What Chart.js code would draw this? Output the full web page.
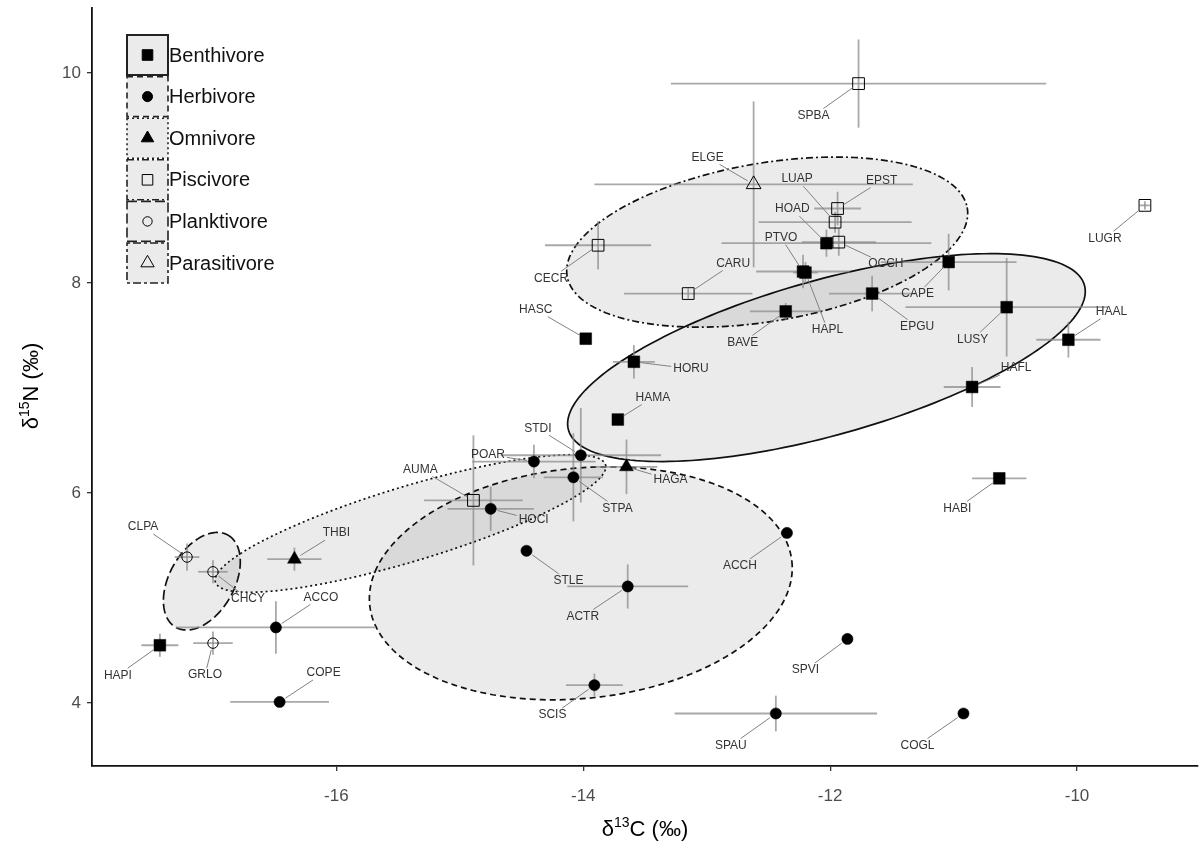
<!DOCTYPE html>
<html>
<head>
<meta charset="utf-8">
<script src="https://cdn.jsdelivr.net/npm/chart.js@4.4.0/dist/chart.umd.min.js"></script>
<style>
  html, body { margin: 0; padding: 0; background: #fff; }
</style>
</head>
<body>
<canvas id="isoChart" width="1200" height="854"></canvas>
<script>
// ---- data ----
var groups = ['Benthivore', 'Herbivore', 'Omnivore', 'Piscivore', 'Planktivore', 'Parasitivore'];

var species = ['SPBA', 'ELGE', 'EPST', 'LUAP', 'HOAD', 'OCCH', 'PTVO', 'HAPL', 'CAPE', 'EPGU',
               'LUSY', 'HAFL', 'HAAL', 'HABI', 'LUGR', 'BAVE', 'CECR', 'CARU', 'HASC', 'HORU',
               'HAMA', 'STDI', 'POAR', 'AUMA', 'HAGA', 'STPA', 'HOCI', 'STLE', 'ACTR', 'ACCH',
               'CLPA', 'CHCY', 'THBI', 'ACCO', 'HAPI', 'GRLO', 'COPE', 'SCIS', 'SPVI', 'SPAU', 'COGL'];
var guild = ['Piscivore', 'Parasitivore', 'Piscivore', 'Piscivore', 'Benthivore', 'Piscivore', 'Benthivore', 'Benthivore', 'Benthivore', 'Benthivore',
             'Benthivore', 'Benthivore', 'Benthivore', 'Benthivore', 'Piscivore', 'Benthivore', 'Piscivore', 'Piscivore', 'Benthivore', 'Benthivore',
             'Benthivore', 'Herbivore', 'Herbivore', 'Piscivore', 'Omnivore', 'Herbivore', 'Herbivore', 'Herbivore', 'Herbivore', 'Herbivore',
             'Planktivore', 'Planktivore', 'Omnivore', 'Herbivore', 'Benthivore', 'Planktivore', 'Herbivore', 'Herbivore', 'Herbivore', 'Herbivore', 'Herbivore'];
var d13C = [-11.77, -12.62, -11.94, -11.96, -12.03, -11.93, -12.22, -12.20, -11.04, -11.66,
            -10.57, -10.85, -10.07, -10.63, -9.45, -12.36, -13.88, -13.15, -13.98, -13.59,
            -13.72, -14.02, -14.40, -14.89, -13.65, -14.08, -14.75, -14.46, -13.64, -12.35,
            -17.21, -17.00, -16.34, -16.49, -17.43, -17.00, -16.46, -13.91, -11.86, -12.44, -10.92];
var d13Csd = [1.52, 1.29, 0.19, 0.62, 0.85, 0.30, 0.38, 0.10, 0.55, 0.35,
              0.82, 0.23, 0.26, 0.22, 0.04, 0.29, 0.43, 0.52, 0, 0.17,
              0, 0.65, 0.50, 0.40, 0.25, 0.24, 0.35, 0, 0.49, 0,
              0.10, 0.12, 0.22, 0.81, 0.15, 0.16, 0.40, 0.23, 0, 0.82, 0];
var d15N = [9.90, 8.94, 8.71, 8.58, 8.38, 8.39, 8.11, 8.10, 8.20, 7.90,
            7.77, 7.01, 7.46, 6.14, 8.74, 7.73, 8.36, 7.90, 7.47, 7.25,
            6.70, 6.36, 6.30, 5.93, 6.25, 6.15, 5.85, 5.45, 5.11, 5.62,
            5.39, 5.25, 5.37, 4.72, 4.55, 4.57, 4.01, 4.17, 4.61, 3.90, 3.90];
var d15Nsd = [0.42, 0.79, 0.16, 0.10, 0.13, 0.13, 0.16, 0.10, 0.27, 0.17,
              0.47, 0.19, 0.17, 0.03, 0.04, 0.08, 0.23, 0.05, 0, 0.16,
              0, 0.45, 0.16, 0.62, 0.26, 0.42, 0.21, 0, 0.21, 0,
              0.13, 0.11, 0.11, 0.25, 0.11, 0.11, 0.03, 0.11, 0, 0.17, 0];

var xTicks = [-16, -14, -12, -10];
var yTicks = [4, 6, 8, 10];

// standard ellipses: centre, end of major semi-axis, end of minor semi-axis (d13C, d15N)
var ellipseGroup  = ['Benthivore', 'Herbivore', 'Omnivore', 'Piscivore', 'Planktivore'];
var ellipseCentre = [[-12.03, 7.29], [-14.02, 5.14], [-15.40, 5.71], [-12.51, 8.39], [-17.09, 5.16]];
var ellipseMajor  = [[-9.94, 7.98], [-12.31, 5.35], [-13.82, 6.27], [-10.89, 8.72], [-16.88, 5.60]];
var ellipseMinor  = [[-11.86, 6.58], [-13.92, 4.05], [-15.31, 5.37], [-12.39, 7.65], [-16.86, 5.01]];

// ---- styling ----
var lineDash = {
    Benthivore: [],
    Herbivore: [6, 4],
    Omnivore: [2, 3],
    Piscivore: [7, 3, 2, 3],
    Planktivore: [10, 4],
    Parasitivore: [3, 3, 8, 3]
};
var markerStyle = {
    Benthivore:   { style: 'rect',     r: 8.3, filled: true },
    Herbivore:    { style: 'circle',   r: 5.6, filled: true },
    Omnivore:     { style: 'triangle', r: 8,   filled: true },
    Piscivore:    { style: 'rect',     r: 8.3, filled: false },
    Planktivore:  { style: 'circle',   r: 5.2, filled: false },
    Parasitivore: { style: 'triangle', r: 8.5, filled: false }
};
// label placement (pixels from the point)
var labelNudge = {
    SPBA: [-45, 32], ELGE: [-46, -27], EPST: [44, -28], LUAP: [-38, -43], HOAD: [-34, -34],
    OCCH: [47, 22], PTVO: [-22, -34], HAPL: [22, 57], CAPE: [-31, 32], EPGU: [45, 33],
    LUSY: [-34, 32], HAFL: [44, -19], HAAL: [43, -28], HABI: [-42, 30], LUGR: [-40, 33],
    BAVE: [-43, 31], CECR: [-47, 33], CARU: [45, -30], HASC: [-50, -29], HORU: [57, 7],
    HAMA: [35, -22], STDI: [-43, -27], POAR: [-46, -7], AUMA: [-53, -31], HAGA: [44, 13],
    STPA: [44, 31], HOCI: [43, 11], STLE: [42, 30], ACTR: [-45, 30], ACCH: [-47, 33],
    CLPA: [-44, -30], CHCY: [35, 27], THBI: [42, -26], ACCO: [45, -30], HAPI: [-42, 30],
    GRLO: [-8, 32], COPE: [44, -29], SCIS: [-42, 30], SPVI: [-42, 31], SPAU: [-45, 32], COGL: [-46, 32]
};

var datasets = groups.map(function(g) {
    var m = markerStyle[g];
    var pts = [];
    for (var i = 0; i < species.length; i++) {
        if (guild[i] === g) pts.push({ x: d13C[i], y: d15N[i], idx: i });
    }
    return {
        label: g,
        data: pts,
        pointStyle: m.style,
        pointRadius: m.r,
        pointHoverRadius: m.r,
        pointBackgroundColor: m.filled ? '#000' : 'rgba(0,0,0,0)',
        pointBorderColor: '#000',
        pointBorderWidth: m.filled ? 0.5 : 1,
        showLine: false
    };
});

var ellipsePlugin = {
    id: 'ellipses',
    beforeDatasetsDraw: function(chart) {
        var ctx = chart.ctx, xs = chart.scales.x, ys = chart.scales.y;
        var area = chart.chartArea;
        ctx.save();
        ctx.beginPath();
        ctx.rect(area.left, area.top, area.right - area.left, area.bottom - area.top);
        ctx.clip();
        for (var e = 0; e < ellipseGroup.length; e++) {
            var c = ellipseCentre[e], M = ellipseMajor[e], N = ellipseMinor[e];
            ctx.beginPath();
            for (var k = 0; k <= 180; k++) {
                var t = k / 180 * 2 * Math.PI;
                var vx = c[0] + (M[0] - c[0]) * Math.cos(t) + (N[0] - c[0]) * Math.sin(t);
                var vy = c[1] + (M[1] - c[1]) * Math.cos(t) + (N[1] - c[1]) * Math.sin(t);
                var px = xs.getPixelForValue(vx), py = ys.getPixelForValue(vy);
                if (k === 0) ctx.moveTo(px, py); else ctx.lineTo(px, py);
            }
            ctx.closePath();
            ctx.fillStyle = 'rgba(0,0,0,0.08)';
            ctx.fill();
            ctx.setLineDash(lineDash[ellipseGroup[e]]);
            ctx.lineWidth = 1.7;
            ctx.strokeStyle = '#111';
            ctx.stroke();
        }
        ctx.setLineDash([]);

        // error bars (mean +- sd)
        ctx.strokeStyle = 'rgba(140,140,140,0.75)';
        ctx.lineWidth = 1.8;
        for (var i = 0; i < species.length; i++) {
            var x0 = xs.getPixelForValue(d13C[i]), y0 = ys.getPixelForValue(d15N[i]);
            if (d13Csd[i] > 0) {
                ctx.beginPath();
                ctx.moveTo(xs.getPixelForValue(d13C[i] - d13Csd[i]), y0);
                ctx.lineTo(xs.getPixelForValue(d13C[i] + d13Csd[i]), y0);
                ctx.stroke();
            }
            if (d15Nsd[i] > 0) {
                ctx.beginPath();
                ctx.moveTo(x0, ys.getPixelForValue(d15N[i] - d15Nsd[i]));
                ctx.lineTo(x0, ys.getPixelForValue(d15N[i] + d15Nsd[i]));
                ctx.stroke();
            }
        }
        ctx.restore();
    }
};

var labelPlugin = {
    id: 'codes',
    afterDatasetsDraw: function(chart) {
        var ctx = chart.ctx, xs = chart.scales.x, ys = chart.scales.y;
        ctx.save();
        ctx.font = '12px "Liberation Sans", Arial, sans-serif';
        ctx.textAlign = 'center';
        ctx.textBaseline = 'middle';
        for (var i = 0; i < species.length; i++) {
            var px = xs.getPixelForValue(d13C[i]), py = ys.getPixelForValue(d15N[i]);
            var nd = labelNudge[species[i]] || [0, -15];
            var lx = px + nd[0], ly = py + nd[1];
            var hw = ctx.measureText(species[i]).width / 2 + 2, hh = 7;
            var dx = px - lx, dy = py - ly;
            var t = Math.min(dx === 0 ? 1e9 : hw / Math.abs(dx), dy === 0 ? 1e9 : hh / Math.abs(dy));
            var ex = lx + dx * t, ey = ly + dy * t;
            var len = Math.sqrt(dx * dx + dy * dy);
            var sx = px - dx / len * 7, sy = py - dy / len * 7;
            if ((sx - ex) * dx + (sy - ey) * dy > 0) {
                ctx.strokeStyle = '#808080';
                ctx.lineWidth = 1;
                ctx.beginPath();
                ctx.moveTo(sx, sy);
                ctx.lineTo(ex, ey);
                ctx.stroke();
            }
            ctx.fillStyle = '#333';
            ctx.fillText(species[i], lx, ly);
        }
        ctx.restore();
    }
};

function drawSupTitle(ctx, parts, cx, cy, rotate) {
    ctx.save();
    ctx.translate(cx, cy);
    if (rotate) ctx.rotate(-Math.PI / 2);
    var total = 0;
    parts.forEach(function(p) {
        ctx.font = p.size + 'px "Liberation Sans", Arial, sans-serif';
        p.w = ctx.measureText(p.text).width;
        total += p.w;
    });
    var x = -total / 2;
    ctx.fillStyle = '#000';
    ctx.textBaseline = 'alphabetic';
    ctx.textAlign = 'left';
    parts.forEach(function(p) {
        ctx.font = p.size + 'px "Liberation Sans", Arial, sans-serif';
        ctx.fillText(p.text, x, 8 + p.rise);
        x += p.w;
    });
    ctx.restore();
}

var decorPlugin = {
    id: 'decor',
    afterDraw: function(chart) {
        var ctx = chart.ctx;
        // axis titles
        drawSupTitle(ctx, [{ text: 'δ', size: 22, rise: 0 }, { text: '13', size: 14, rise: -9 }, { text: 'C (‰)', size: 22, rise: 0 }], 645, 828, false);
        drawSupTitle(ctx, [{ text: 'δ', size: 22, rise: 0 }, { text: '15', size: 14, rise: -9 }, { text: 'N (‰)', size: 22, rise: 0 }], 30, 386, true);

        // legend with one keyed box per feeding guild
        ctx.save();
        for (var i = 0; i < groups.length; i++) {
            var g = groups[i];
            var bx = 127, by = 35 + i * 41.6, bw = 41, bh = 40;
            ctx.fillStyle = '#ebebeb';
            ctx.fillRect(bx, by, bw, bh);
            ctx.setLineDash(lineDash[g]);
            ctx.lineWidth = i === 0 ? 2 : 1.6;
            ctx.strokeStyle = '#222';
            ctx.strokeRect(bx, by, bw, bh);
            ctx.setLineDash([]);
            var m = markerStyle[g];
            ctx.fillStyle = m.filled ? '#000' : 'rgba(0,0,0,0)';
            ctx.strokeStyle = '#000';
            ctx.lineWidth = 1;
            Chart.helpers.drawPoint(ctx, { pointStyle: m.style, rotation: 0, radius: m.r * 0.9, borderWidth: 1 }, bx + bw / 2, by + bh / 2);
            ctx.fillStyle = '#111';
            ctx.font = '20px "Liberation Sans", Arial, sans-serif';
            ctx.textAlign = 'left';
            ctx.textBaseline = 'middle';
            ctx.fillText(g, bx + bw + 1, by + bh / 2 + 1);
        }
        ctx.restore();
    }
};

var tickFont = { family: '"Liberation Sans", Arial, sans-serif', size: 17 };

new Chart(document.getElementById('isoChart'), {
    type: 'scatter',
    data: { datasets: datasets },
    options: {
        responsive: false,
        devicePixelRatio: 1,
        animation: false,
        layout: { autoPadding: false, padding: { left: 0, top: 8, right: 2, bottom: 0 } },
        plugins: {
            legend: { display: false },
            tooltip: { enabled: false }
        },
        scales: {
            x: {
                type: 'linear',
                min: -17.98,
                max: -9.02,
                afterBuildTicks: function(scale) {
                    scale.ticks = xTicks.map(function(v) { return { value: v }; });
                },
                afterFit: function(scale) {
                    scale.height = 88;
                    scale.paddingLeft = 0;
                    scale.paddingRight = 0;
                },
                grid: { display: true, drawOnChartArea: false, tickLength: 5, color: '#333', lineWidth: 1.3 },
                border: { display: true, color: '#111', width: 1.8 },
                ticks: { font: tickFont, color: '#4d4d4d', padding: 15, maxRotation: 0 }
            },
            y: {
                type: 'linear',
                min: 3.4,
                max: 10.62,
                afterBuildTicks: function(scale) {
                    scale.ticks = yTicks.map(function(v) { return { value: v }; });
                },
                afterFit: function(scale) {
                    scale.width = 92;
                    scale.paddingTop = 0;
                    scale.paddingBottom = 0;
                },
                grid: { display: true, drawOnChartArea: false, tickLength: 5, color: '#333', lineWidth: 1.3 },
                border: { display: true, color: '#111', width: 1.8 },
                ticks: { font: tickFont, color: '#4d4d4d', padding: 6 }
            }
        }
    },
    plugins: [ellipsePlugin, labelPlugin, decorPlugin]
});
</script>
</body>
</html>
